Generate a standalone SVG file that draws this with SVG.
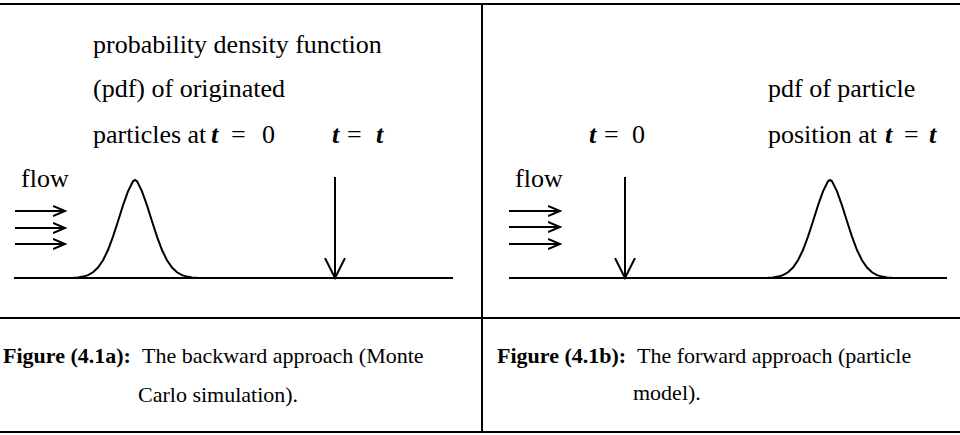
<svg xmlns="http://www.w3.org/2000/svg" width="960" height="435" viewBox="0 0 960 435">
<style>
.txt{font-family:"Liberation Serif","Times New Roman",serif;font-size:26px;fill:#000}
.cap{font-family:"Liberation Serif","Times New Roman",serif;font-size:22px;fill:#000}
.b{font-weight:bold}
.it{font-style:italic;font-weight:bold}
.ln{stroke:#000;stroke-width:2;fill:none}
</style>
<defs>
<marker id="head" markerWidth="14" markerHeight="12" refX="12" refY="6" orient="auto" markerUnits="userSpaceOnUse">
<path d="M0,1 L12,6 L0,11" fill="none" stroke="#000" stroke-width="2"/>
</marker>
<marker id="vhead" markerWidth="22" markerHeight="24" refX="20" refY="11" orient="auto" markerUnits="userSpaceOnUse">
<path d="M0,1 L20,11 L0,21" fill="none" stroke="#000" stroke-width="2"/>
</marker>
</defs>
<g id="frame">
<line class="ln" x1="0" y1="4" x2="960" y2="4"/>
<line class="ln" x1="482" y1="4" x2="482" y2="432"/>
<line class="ln" x1="0" y1="318" x2="960" y2="318"/>
<line class="ln" x1="0" y1="432" x2="960" y2="432"/>
</g>
<g id="panel-a">
<text class="txt" x="93" y="53">probability density function</text>
<text class="txt" x="93" y="97">(pdf) of originated</text>
<text class="txt" x="93" y="143">particles at <tspan class="it" x="211">t</tspan><tspan x="231">=</tspan><tspan x="262">0</tspan></text>
<text class="txt" x="332" y="143"><tspan class="it">t</tspan><tspan x="347">=</tspan><tspan class="it" x="376">t</tspan></text>
<text class="txt" x="21" y="187">flow</text>
<path class="ln" d="M14,278 L453,278"/>
</g>
<g id="panel-b">
<text class="txt" x="768" y="97">pdf of particle</text>
<text class="txt" x="768" y="143">position at <tspan class="it" x="885">t</tspan><tspan x="904">=</tspan><tspan class="it" x="929">t</tspan></text>
<text class="txt" x="589" y="143"><tspan class="it">t</tspan><tspan x="604">=</tspan><tspan x="632">0</tspan></text>
<text class="txt" x="515" y="187">flow</text>
<path class="ln" d="M509,278 L947,278"/>
</g>
<g id="curves">
<path class="ln" d="M63,278 L73,277.8 L78,277.4 L83,276.6 L88,275.1 L93,272.3 L98,267.6 L103,260.3 L108,250 L113,236.6 L118,221.2 L123,205.4 L128,191.4 L133,181.3 L135,180 L137,181.3 L142,191.4 L147,205.4 L152,221.2 L157,236.6 L162,250 L167,260.3 L172,267.6 L177,272.3 L182,275.1 L187,276.6 L192,277.4 L197,277.8 L207,278"/>
<path class="ln" d="M758,278 L768,277.8 L773,277.4 L778,276.6 L783,275.1 L788,272.3 L793,267.6 L798,260.3 L803,250 L808,236.6 L813,221.2 L818,205.4 L823,191.4 L828,181.3 L830,180 L832,181.3 L837,191.4 L842,205.4 L847,221.2 L852,236.6 L857,250 L862,260.3 L867,267.6 L872,272.3 L877,275.1 L882,276.6 L887,277.4 L892,277.8 L902,278"/>
</g>
<g id="connectors">
<line class="ln" x1="15" y1="211" x2="65" y2="211" marker-end="url(#head)"/>
<line class="ln" x1="15" y1="228" x2="65" y2="228" marker-end="url(#head)"/>
<line class="ln" x1="15" y1="244" x2="65" y2="244" marker-end="url(#head)"/>
<line class="ln" x1="335" y1="177" x2="335" y2="278" marker-end="url(#vhead)"/>
<line class="ln" x1="509" y1="211" x2="560" y2="211" marker-end="url(#head)"/>
<line class="ln" x1="509" y1="227" x2="560" y2="227" marker-end="url(#head)"/>
<line class="ln" x1="509" y1="244" x2="560" y2="244" marker-end="url(#head)"/>
<line class="ln" x1="625" y1="177" x2="625" y2="278" marker-end="url(#vhead)"/>
</g>
<g id="captions">
<text class="cap" x="3" y="363"><tspan class="b">Figure (4.1a):</tspan><tspan x="142">The backward approach (Monte</tspan></text>
<text class="cap" x="138" y="402">Carlo simulation).</text>
<text class="cap" x="497" y="363"><tspan class="b">Figure (4.1b):</tspan><tspan x="637">The forward approach (particle</tspan></text>
<text class="cap" x="633" y="400">model).</text>
</g>
</svg>
